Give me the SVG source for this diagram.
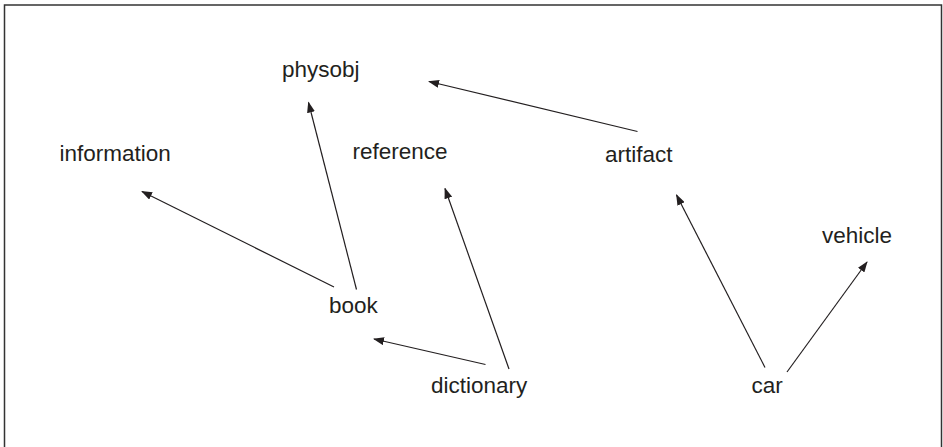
<svg xmlns="http://www.w3.org/2000/svg" width="943" height="447" viewBox="0 0 943 447">
<style>
.lbl{font-family:"Liberation Sans",Arial,sans-serif;font-size:22.5px;fill:#231f20}
.edge{stroke:#231f20;stroke-width:1.2;fill:none;marker-end:url(#ah)}
.frame{stroke:#333;stroke-width:1.5;fill:none}
</style>
<defs>
<marker id="ah" markerWidth="11" markerHeight="8" refX="10" refY="4" orient="auto" markerUnits="userSpaceOnUse">
<path d="M0,0 L11,4 L0,8 Z" fill="#231f20"/>
</marker>
</defs>
<rect width="943" height="447" fill="#fff"/>
<path class="frame" d="M4.5,447 V5 H941.5 V447"/>
<g id="connectors">
<line class="edge" x1="637.5" y1="131.5" x2="429" y2="81.5"/>
<line class="edge" x1="356.5" y1="289.5" x2="308.5" y2="102.5"/>
<line class="edge" x1="334" y1="287" x2="142" y2="191.5"/>
<line class="edge" x1="485.5" y1="364.5" x2="374" y2="339"/>
<line class="edge" x1="509" y1="369" x2="445" y2="188.5"/>
<line class="edge" x1="765" y1="367.5" x2="676.5" y2="195"/>
<line class="edge" x1="787" y1="372" x2="867" y2="262"/>
</g>
<g id="physobj"><text class="lbl" x="282" y="77">physobj</text></g>
<g id="information"><text class="lbl" x="59.5" y="161">information</text></g>
<g id="reference"><text class="lbl" x="352.5" y="159">reference</text></g>
<g id="artifact"><text class="lbl" x="605" y="162">artifact</text></g>
<g id="vehicle"><text class="lbl" x="822" y="243">vehicle</text></g>
<g id="book"><text class="lbl" x="329" y="313">book</text></g>
<g id="dictionary"><text class="lbl" x="431" y="393">dictionary</text></g>
<g id="car"><text class="lbl" x="751.5" y="393">car</text></g>
</svg>
